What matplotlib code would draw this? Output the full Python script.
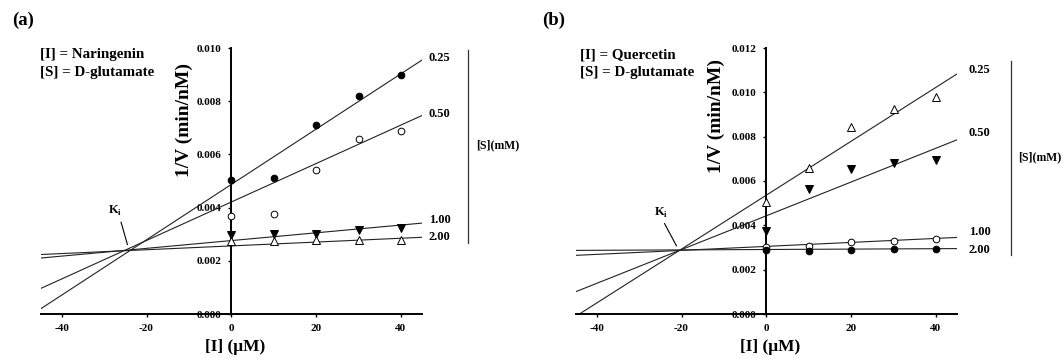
import matplotlib
matplotlib.use("Agg")
import matplotlib.pyplot as plt
import numpy as np

plt.rcParams['font.family'] = ['Liberation Serif', 'DejaVu Serif']
plt.rcParams['font.weight'] = 'bold'
plt.rcParams['axes.unicode_minus'] = False
plt.rcParams['mathtext.fontset'] = 'custom'
plt.rcParams['mathtext.rm'] = 'Liberation Serif:bold'
plt.rcParams['mathtext.bf'] = 'Liberation Serif:bold'

# ---------------- data ----------------
inhib = [0, 10, 20, 30, 40]
conc_labels = ["0.25", "0.50", "1.00", "2.00"]

# panel (a) Naringenin
a_025 = [0.00504, 0.00511, 0.00712, 0.00818, 0.00899]
a_050 = [0.00370, 0.00377, 0.00541, 0.00657, 0.00688]
a_100 = [0.00298, 0.00300, 0.00302, 0.00317, 0.00323]
a_200 = [0.00273, 0.00275, 0.00277, 0.00280, 0.00280]
a_intercepts = [0.00487, 0.00421, 0.00276, 0.00256]
a_slopes = [0.000104, 0.0000723, 0.0000146, 0.0000072]

# panel (b) Quercetin
b_025 = [0.00504, 0.00657, 0.00845, 0.00923, 0.00977]
b_050 = [0.00373, 0.00563, 0.00654, 0.00681, 0.00694]
b_100 = [0.00304, 0.00307, 0.00325, 0.00331, 0.00337]
b_200 = [0.00287, 0.00284, 0.00290, 0.00292, 0.00292]
b_intercepts = [0.00536, 0.00443, 0.00305, 0.00291]
b_slopes = [0.0001216, 0.0000762, 0.0000090, 0.0000009]

W, H = 1063, 358
fig = plt.figure(figsize=(W/100, H/100), dpi=100)

def px_axes(l, r, t, b):
    return fig.add_axes([l/W, 1-b/H, (r-l)/W, (b-t)/H])

def panel(ax, series, styles, intercepts, slopes, ymax, yticks, label_x,
          label_y, sline, s_label, ki_text, ki_line, inhibitor, text_x,
          ylab_pos, letter, letter_x):
    xs = np.array([-45, 45])
    for ic, sl in zip(intercepts, slopes):
        ax.plot(xs, ic + sl*xs, color='#222222', lw=0.8, zorder=2)
    for ys, (mk, fc) in zip(series, styles):
        ms = 4.8 if mk == 'o' else 5.3
        ax.plot(inhib, ys, linestyle='none', marker=mk, ms=ms, mfc=fc,
                mec='black', mew=0.7, zorder=3, clip_on=False)
    ax.set_xlim(-45, 45)
    ax.set_ylim(0, ymax)
    ax.spines['left'].set_position(('data', 0))
    ax.spines['right'].set_visible(False)
    ax.spines['top'].set_visible(False)
    ax.spines['left'].set_linewidth(1.4)
    ax.spines['bottom'].set_linewidth(1.4)
    ax.set_xticks([-40, -20, 0, 20, 40])
    ax.set_yticks(yticks)
    ax.set_yticklabels([f"{v:.3f}" for v in yticks])
    ax.tick_params(axis='both', direction='out', length=2.5, width=1.0,
                   labelsize=8)
    ax.tick_params(axis='y', pad=4.8)
    ax.tick_params(axis='x', pad=5.0)
    ax.patch.set_alpha(0)
    ax.text(1.0, -0.124, "[I] (\u03bcM)", transform=ax.get_xaxis_transform(),
            fontsize=12.5, fontweight='bold', ha='center', va='center')
    ax.text(ylab_pos[0], ylab_pos[1]*ymax, "1/V (min/nM)", rotation=90,
            fontsize=14, fontweight='bold', ha='center', va='center')
    # right labels
    for lab, ly in zip(conc_labels, label_y):
        ax.text(label_x, ly, lab, fontsize=9, fontweight='bold', ha='left',
                va='center', clip_on=False)
    ax.plot([sline[0], sline[0]], [sline[1], sline[2]], color='#333333',
            lw=0.9, clip_on=False)
    ax.text(s_label[0], s_label[1], "[S](mM)", fontsize=8.5,
            fontweight='bold', ha='center', va='center', clip_on=False)
    # Ki
    ax.text(ki_text[0], ki_text[1], "K$_\\mathrm{i}$", fontsize=9,
            fontweight='bold', ha='center', va='center')
    ax.plot([ki_line[0], ki_line[2]], [ki_line[1], ki_line[3]], color='black',
            lw=0.8)
    ax.text(text_x, 0.975, f"[I] = {inhibitor}", transform=ax.transAxes,
            fontsize=10.8, fontweight='bold', ha='left', va='center')
    ax.text(text_x, 0.907, "[S] = D-glutamate", transform=ax.transAxes,
            fontsize=10.8, fontweight='bold', ha='left', va='center')
    fig.text(letter_x/W, 1-20/H, letter, fontsize=13.5, fontweight='bold',
             ha='left', va='center')

# panel (a)
axa = px_axes(40.5, 422.1, 48.0, 314)
panel(axa, [a_025, a_050, a_100, a_200],
      [('o', 'black'), ('o', 'white'), ('v', 'black'), ('^', 'white')],
      a_intercepts, a_slopes, 0.010, [0, 0.002, 0.004, 0.006, 0.008, 0.010],
      46.6, [0.00961, 0.00753, 0.00354, 0.00288],
      (55.9, 0.00994, 0.00267), (62.8, 0.00635),
      (-27.3, 0.00386), (-26.0, 0.00345, -24.5, 0.00261),
      "Naringenin", 0.0, (-11.0, 0.729), "(a)", 12)

# panel (b)
axb = px_axes(575.5, 957.1, 48.0, 314)
panel(axb, [b_025, b_050, b_100, b_200],
      [('^', 'white'), ('v', 'black'), ('o', 'white'), ('o', 'black')],
      b_intercepts, b_slopes, 0.012, [0, 0.002, 0.004, 0.006, 0.008, 0.010, 0.012],
      47.7, [0.01100, 0.00818, 0.00370, 0.00290],
      (57.7, 0.01142, 0.00267), (64.6, 0.00705),
      (-24.9, 0.00456), (-24.0, 0.00408, -21.2, 0.00308),
      "Quercetin", 0.0126, (-11.8, 0.745), "(b)", 542)

fig.savefig("out.png", dpi=100)
